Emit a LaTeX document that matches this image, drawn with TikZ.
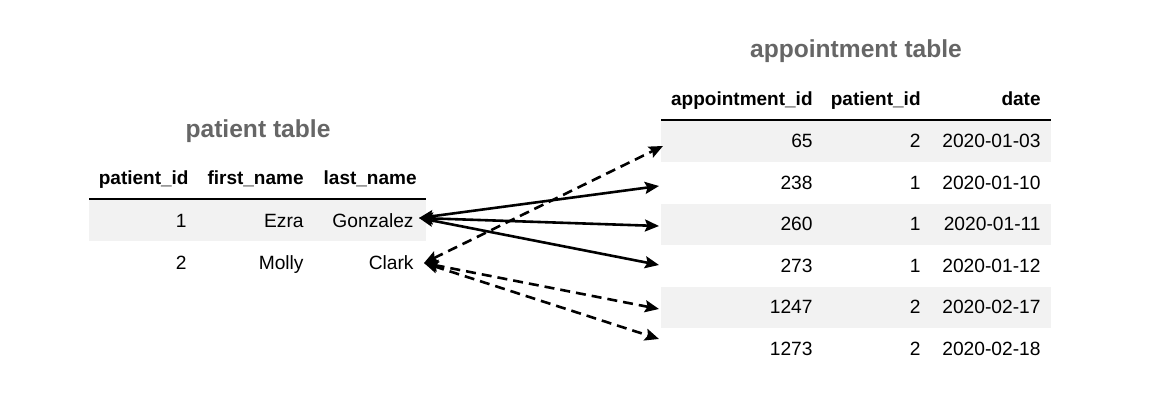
\documentclass[tikz,border=0pt]{standalone}
\usepackage{fontspec}
\setmainfont{Liberation Sans}
\usetikzlibrary{arrows.meta}

\begin{document}
\begin{tikzpicture}[x=0.5pt,y=-0.5pt]
\tikzstyle{cell}=[anchor=base east,inner sep=0pt,font=\fontsize{9.6}{11}\selectfont]
\tikzstyle{head}=[anchor=base east,inner sep=0pt,font=\fontsize{9.5}{11}\selectfont\bfseries]
\tikzstyle{title}=[anchor=base,inner sep=0pt,text=black!60,font=\fontsize{12.3}{14}\selectfont\bfseries]
\tikzstyle{link}=[{Stealth[length=7pt,width=6pt,inset=1.2pt]}-{Stealth[length=7pt,width=6pt,inset=1.2pt]},line width=1.3pt]
\useasboundingbox (0,0) rectangle (1152,400);
% patient table
\fill[black!5] (89,200) rectangle (426,241);
\draw[line width=0.8pt] (89,199) -- (426,199);
\node[title] (ptitle) at (258,138) {patient table};
\node[head] (hpid) at (189,185) {patient\_id};
\node[head] (hfirst) at (304,185) {first\_name};
\node[head] (hlast) at (417,185) {last\_name};
\node[cell] (pid1) at (187,228) {1};
\node[cell] (ezra) at (304,228) {Ezra};
\node[cell] (gonzalez) at (414,228) {Gonzalez};
\node[cell] (pid2) at (187,270) {2};
\node[cell] (molly) at (304,270) {Molly};
\node[cell] (clark) at (414,270) {Clark};
% appointment table
\fill[black!5] (661,121) rectangle (1051,162);
\fill[black!5] (661,204) rectangle (1051,245);
\fill[black!5] (661,287) rectangle (1051,328);
\draw[line width=0.8pt] (661,120) -- (1051,120);
\node[title] (atitle) at (856,58) {appointment table};
\node[head] (haid) at (813,106) {appointment\_id};
\node[head] (hapid) at (921,106) {patient\_id};
\node[head] (hdate) at (1041,106) {date};
\node[cell] (a65) at (813,148) {65};
\node[cell] (p65) at (921,148) {2};
\node[cell] (d65) at (1041,148) {2020-01-03};
\node[cell] (a238) at (813,190) {238};
\node[cell] (p238) at (921,190) {1};
\node[cell] (d238) at (1041,190) {2020-01-10};
\node[cell] (a260) at (813,231) {260};
\node[cell] (p260) at (921,231) {1};
\node[cell] (d260) at (1041,231) {2020-01-11};
\node[cell] (a273) at (813,273) {273};
\node[cell] (p273) at (921,273) {1};
\node[cell] (d273) at (1041,273) {2020-01-12};
\node[cell] (a1247) at (813,314) {1247};
\node[cell] (p1247) at (921,314) {2};
\node[cell] (d1247) at (1041,314) {2020-02-17};
\node[cell] (a1273) at (813,356) {1273};
\node[cell] (p1273) at (921,356) {2};
\node[cell] (d1273) at (1041,356) {2020-02-18};
% arrow ends
\coordinate (from1) at (419,218);
\coordinate (from2) at (424,263);
\coordinate (to65) at (663,146);
\coordinate (to238) at (659,186);
\coordinate (to260) at (659,226);
\coordinate (to273) at (659,265);
\coordinate (to1247) at (659,309);
\coordinate (to1273) at (659,339);
\draw[link] (from1) -- (to238);
\draw[link] (from1) -- (to260);
\draw[link] (from1) -- (to273);
\draw[link,dash pattern=on 5pt off 3pt] (from2) -- (to65);
\draw[link,dash pattern=on 5pt off 3pt] (from2) -- (to1247);
\draw[link,dash pattern=on 5pt off 3pt] (from2) -- (to1273);
\end{tikzpicture}
\end{document}
